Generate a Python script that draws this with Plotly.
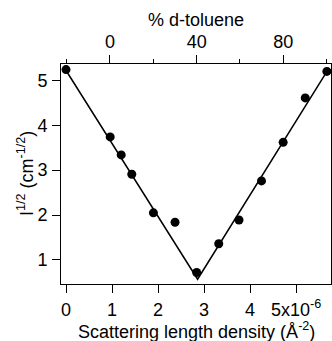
import plotly.graph_objects as go

# data
sld = [0.0, 0.96, 1.20, 1.43, 1.90, 2.37, 2.84, 3.32, 3.76, 4.25, 4.72, 5.20, 5.67]
sqrt_i = [5.24, 3.74, 3.34, 2.91, 2.05, 1.84, 0.72, 1.36, 1.89, 2.76, 3.62, 4.61, 5.20]
fit_x = [-0.03, 2.86, 5.72]
fit_y = [5.27, 0.57, 5.28]
x_ticks = [0, 1, 2, 3, 4, 5]
x_ticktext = ["0", "1", "2", "3", "4", "5x10<sup>-6</sup>"]
pct_ticks = [0, 40, 80]
pct_minor = [-20, 20, 60, 100]
y_ticks = [1, 2, 3, 4, 5]

FONT = "Arial, Liberation Sans, sans-serif"
FS = 18

fig = go.Figure()
fig.add_trace(go.Scatter(x=fit_x, y=fit_y, mode="lines",
                         line=dict(color="black", width=1.5), showlegend=False))
fig.add_trace(go.Scatter(x=sld, y=sqrt_i, mode="markers",
                         marker=dict(color="black", size=9), showlegend=False))
fig.add_trace(go.Scatter(x=[0, 100], y=[None, None], xaxis="x2", mode="markers",
                         showlegend=False, hoverinfo="skip"))

axis_common = dict(showgrid=False, zeroline=False, showline=True, linecolor="black",
                   linewidth=1, ticks="outside", ticklen=8, tickwidth=1, tickcolor="black",
                   tickfont=dict(family=FONT, size=FS, color="black"))

PW, PH, L, T = 270, 220, 61, 64

fig.update_layout(
    width=332, height=341,
    margin=dict(l=L, r=1, t=T, b=57),
    plot_bgcolor="white", paper_bgcolor="white",
    font=dict(family=FONT, size=FS, color="black"),
    xaxis=dict(range=[-0.109, 5.76], tickvals=x_ticks, ticktext=x_ticktext,
               mirror=False, ticklabelstandoff=1, **axis_common),
    xaxis2=dict(range=[-22.6, 102.0], overlaying="x", side="top", anchor="y",
                tickvals=pct_ticks,
                minor=dict(tickvals=pct_minor, ticklen=4, tickcolor="black", ticks="outside"),
                title=dict(text="% d-toluene", font=dict(family=FONT, size=FS), standoff=0),
                **axis_common),
    yaxis=dict(range=[0.464, 5.365], tickvals=y_ticks, mirror=True, ticklabelstandoff=1,
               **axis_common),
    annotations=[
        dict(text="I<sup>1/2</sup> (cm<sup>-1/2</sup>)", textangle=-90,
             xref="paper", yref="paper", x=(25 - L) / PW, y=0.5,
             xanchor="center", yanchor="middle", showarrow=False,
             font=dict(family=FONT, size=FS, color="black")),
        dict(text="Scattering length density (Å<sup>-2</sup>)",
             xref="paper", yref="paper", x=0.5, y=(T + PH - 330) / PH,
             xanchor="center", yanchor="middle", showarrow=False,
             font=dict(family=FONT, size=FS, color="black")),
    ],
)
fig.write_html("out.html")
